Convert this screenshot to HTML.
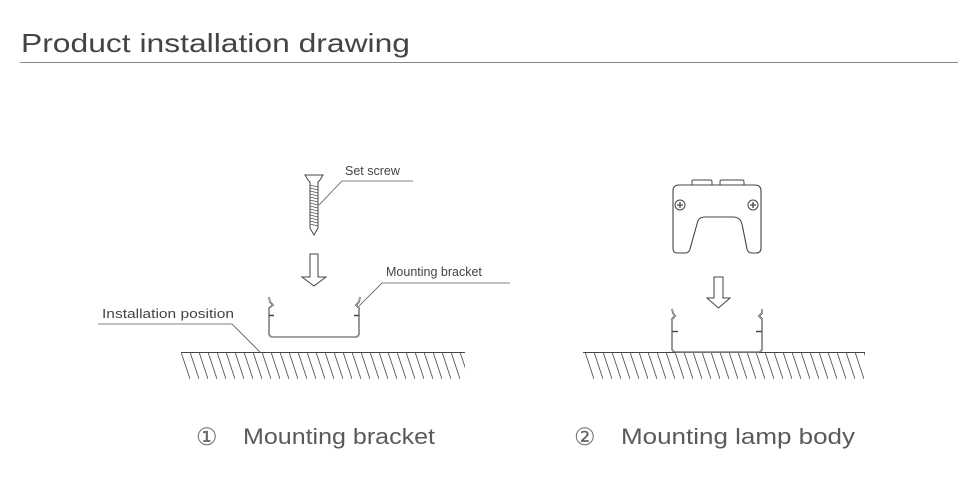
<!DOCTYPE html>
<html><head><meta charset="utf-8"><style>
html,body{margin:0;padding:0;background:#fff;}
svg{display:block;}
text{font-family:"Liberation Sans",sans-serif;}
</style></head><body>
<svg width="977" height="502" viewBox="0 0 977 502" xmlns="http://www.w3.org/2000/svg">
<defs>
<pattern id="h" x="181" y="352" width="9" height="27" patternUnits="userSpaceOnUse">
<line x1="0" y1="0" x2="9" y2="27" stroke="#555" stroke-width="0.9"/>
</pattern>
<pattern id="h2" x="585" y="352" width="9" height="27" patternUnits="userSpaceOnUse">
<line x1="0" y1="0" x2="9" y2="27" stroke="#555" stroke-width="0.9"/>
</pattern>
</defs>
<text x="21" y="52" font-size="26" fill="#444" textLength="389" lengthAdjust="spacingAndGlyphs">Product installation drawing</text>
<line x1="20" y1="62.5" x2="958" y2="62.5" stroke="#888" stroke-width="1"/>

<line x1="181" y1="352.5" x2="465" y2="352.5" stroke="#444" stroke-width="1"/>
<rect x="181" y="353" width="284" height="26" fill="url(#h)"/>
<path d="M305 175 L323 175 L320 180 L318 182 L318 228 L314 235 L310 228 L310 182 L308 180 Z" fill="#fff" stroke="#444" stroke-width="1"/>
<g stroke="#555" stroke-width="0.8">
<path d="M310 185 L318 187 M310 188 L318 190 M310 191 L318 193 M310 194 L318 196 M310 197 L318 199 M310 200 L318 202 M310 203 L318 205 M310 206 L318 208 M310 209 L318 211 M310 212 L318 214 M310 215 L318 217 M310 218 L318 220 M310 221 L318 223 M310 224 L318 226"/>
</g>
<polyline points="319,205 342,181 413,181" fill="none" stroke="#555" stroke-width="0.8"/>
<text x="345" y="175" font-size="12.5" fill="#444">Set screw</text>
<path d="M310 254 L318 254 L318 277 L326 277 L314 286 L302 277 L310 277 Z" fill="#fff" stroke="#444" stroke-width="1"/>
<path d="M269 297 L270 302 L273 305 L269 308 L269 333 Q269 337 273 337 L355 337 Q359 337 359 333 L359 308 L356 305 L359 302 L360 297" fill="none" stroke="#444" stroke-width="1.6"/>
<path d="M269 297 L270 302 L273 305 L269 308 L269 333 Q269 337 273 337 L355 337 Q359 337 359 333 L359 308 L356 305 L359 302 L360 297" fill="none" stroke="#fff" stroke-width="0.5"/>
<line x1="269" y1="315.5" x2="274" y2="315.5" stroke="#444" stroke-width="1.5"/>
<line x1="354" y1="315.5" x2="359" y2="315.5" stroke="#444" stroke-width="1.5"/>
<polyline points="359,306 382,283 510,283" fill="none" stroke="#555" stroke-width="0.8"/>
<text x="386" y="276" font-size="12.5" fill="#444">Mounting bracket</text>
<polyline points="98,324 232,324 260,352" fill="none" stroke="#555" stroke-width="0.8"/>
<text x="102" y="318" font-size="12.5" fill="#444" textLength="132" lengthAdjust="spacingAndGlyphs">Installation position</text>

<line x1="583" y1="352.5" x2="865" y2="352.5" stroke="#444" stroke-width="1"/>
<rect x="585" y="353" width="280" height="26" fill="url(#h2)"/>
<path d="M692 185 L692 181 Q692 180 694 180 L710 180 Q712 180 712 182 L712 185 M720 185 L720 181 Q720 180 722 180 L742 180 Q744 180 744 182 L744 185" fill="none" stroke="#444" stroke-width="1"/>
<path d="M679 185 L755 185 Q761 185 761 191 L761 248 Q761 253 756 253 L752 253 Q748 253 747 249 L742 224 Q740 217 733 217 L705 217 Q698 217 697 224 L690 249 Q689 253 685 253 L677 253 Q673 253 673 248 L673 191 Q673 185 679 185 Z" fill="#fff" stroke="#444" stroke-width="1.1"/>
<circle cx="680" cy="205" r="5" fill="#fff" stroke="#444" stroke-width="1"/>
<path d="M677 205 L683 205 M680 202 L680 208" stroke="#444" stroke-width="1.3"/>
<circle cx="753" cy="205" r="5" fill="#fff" stroke="#444" stroke-width="1"/>
<path d="M750 205 L756 205 M753 202 L753 208" stroke="#444" stroke-width="1.3"/>
<path d="M714 277 L723 277 L723 298 L730 298 L718.5 308 L707 298 L714 298 Z" fill="#fff" stroke="#444" stroke-width="1"/>
<path d="M672 309 L673 313 L675 316 L672 319 L672 348 Q672 352 676 352 L758 352 Q762 352 762 348 L762 319 L759 316 L762 313 L762 309" fill="none" stroke="#444" stroke-width="1.6"/>
<path d="M672 309 L673 313 L675 316 L672 319 L672 348 Q672 352 676 352 L758 352 Q762 352 762 348 L762 319 L759 316 L762 313 L762 309" fill="none" stroke="#fff" stroke-width="0.5"/>
<line x1="672" y1="331.5" x2="678" y2="331.5" stroke="#444" stroke-width="1.4"/>
<line x1="756" y1="331.5" x2="762" y2="331.5" stroke="#444" stroke-width="1.4"/>

<text x="196" y="445" font-size="24" fill="#666">①</text>
<text x="243" y="444" font-size="22" fill="#5a5a5a" textLength="192" lengthAdjust="spacingAndGlyphs">Mounting bracket</text>
<text x="574" y="445" font-size="24" fill="#666">②</text>
<text x="621" y="444" font-size="22" fill="#5a5a5a" textLength="234" lengthAdjust="spacingAndGlyphs">Mounting lamp body</text>
</svg>
</body></html>
